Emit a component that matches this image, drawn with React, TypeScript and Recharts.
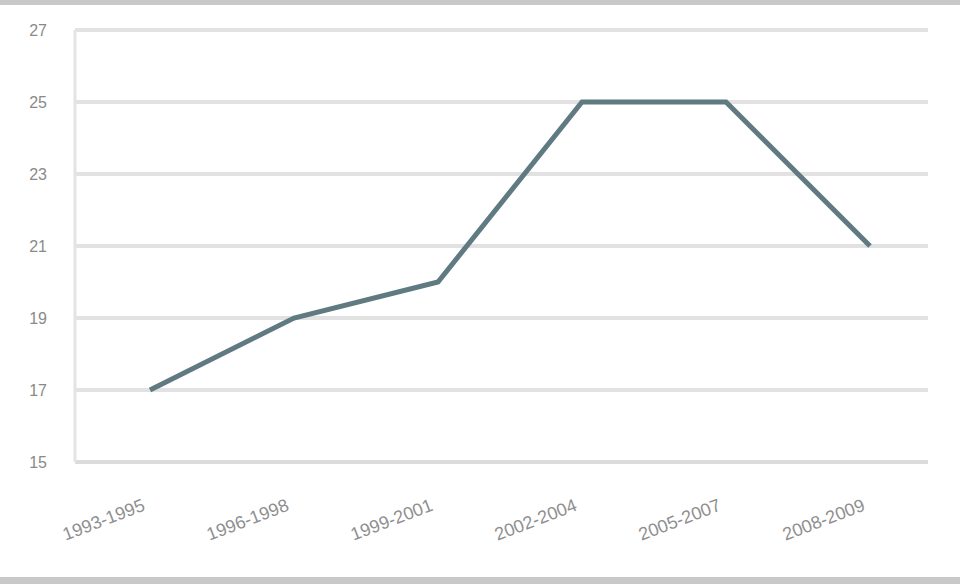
import { CartesianGrid, Line, LineChart, XAxis, YAxis } from 'recharts'

const periods = ['1993-1995', '1996-1998', '1999-2001', '2002-2004', '2005-2007', '2008-2009']
const values = [17, 19, 20, 25, 25, 21]
const yTicks = [15, 17, 19, 21, 23, 25, 27]

const data = periods.map((period, i) => ({ period, value: values[i] }))

function PeriodTick(props: any) {
  const { x, y, payload } = props
  return (
    <g transform={`translate(${x},${y})`}>
      <text
        x={-4}
        y={40}
        transform="rotate(-21, -4, 40)"
        textAnchor="end"
        fontSize={18}
        fill="#8f8f8f"
        fontFamily="'Liberation Sans', Arial, sans-serif"
      >
        {payload.value}
      </text>
    </g>
  )
}

export default function App() {
  return (
    <div
      style={{
        position: 'fixed',
        top: 0,
        left: 0,
        width: 960,
        height: 584,
        boxSizing: 'border-box',
        borderTop: '5px solid #c8c8c8',
        borderBottom: '7px solid #c9c9c9',
        background: '#fff',
      }}
    >
      <LineChart width={960} height={572} data={data} margin={{ top: 25, right: 32, left: 0, bottom: 55 }}>
        <CartesianGrid vertical={false} stroke="#e2e2e2" strokeWidth={4} />
        <XAxis
          dataKey="period"
          padding={{ left: 75, right: 58 }}
          axisLine={{ stroke: '#dcdcdc', strokeWidth: 4 }}
          tickLine={false}
          tick={<PeriodTick />}
          interval={0}
          height={60}
        />
        <YAxis
          domain={[15, 27]}
          ticks={yTicks}
          width={75}
          axisLine={{ stroke: '#e4e4e4', strokeWidth: 3 }}
          tickLine={false}
          tickMargin={22}
          tick={{ fontSize: 16, fill: '#8a8a8a', fontFamily: "'Liberation Sans', Arial, sans-serif" }}
        />
        <Line
          type="linear"
          dataKey="value"
          stroke="#5f7a80"
          strokeWidth={5}
          dot={false}
          isAnimationActive={false}
        />
      </LineChart>
    </div>
  )
}
